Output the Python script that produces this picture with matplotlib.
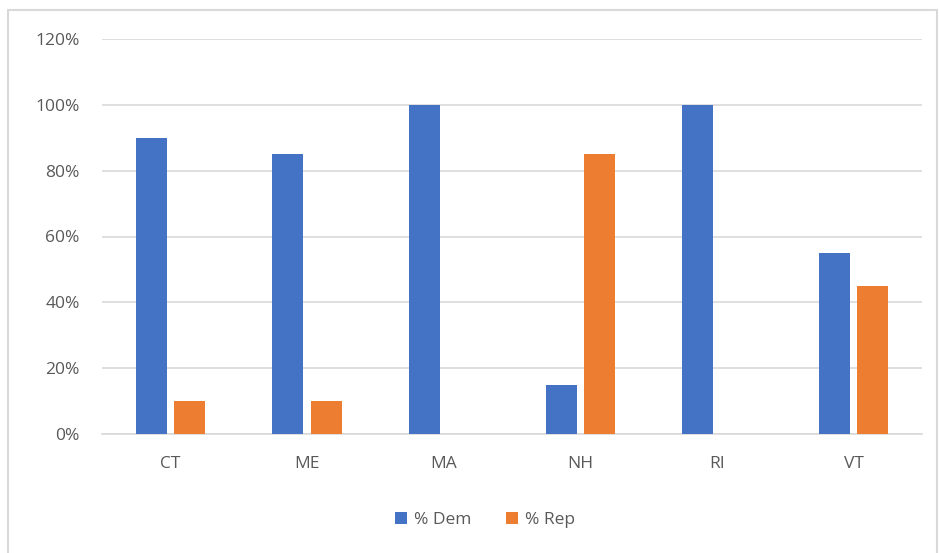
import matplotlib
matplotlib.use("Agg")
import matplotlib.pyplot as plt
import numpy as np
from matplotlib.patches import Rectangle

states = ["CT", "ME", "MA", "NH", "RI", "VT"]
pct_dem = [0.90, 0.85, 1.00, 0.15, 1.00, 0.55]
pct_rep = [0.10, 0.10, 0.00, 0.85, 0.00, 0.45]

plt.rcParams["font.family"] = ["Open Sans", "DejaVu Sans"]
txt = "#595959"

fig = plt.figure(figsize=(9.39, 5.53), dpi=100)
ax = fig.add_axes([102 / 939, 1 - 434 / 553, 820 / 939, 395 / 553])

x = np.arange(len(states))
w = 0.227
off = w / 2 + 0.026
ax.bar(x - off, pct_dem, w, color="#4472C4", label="% Dem", zorder=3)
ax.bar(x + off, pct_rep, w, color="#ED7D31", label="% Rep", zorder=3)

ax.set_xlim(-0.5, len(states) - 0.5)
ax.set_ylim(0, 1.2)
ax.set_yticks(np.arange(0, 1.21, 0.2))
ax.set_yticklabels([f"{int(round(v * 100))}%" for v in np.arange(0, 1.21, 0.2)])
ax.set_xticks(x)
ax.set_xticklabels(states)
ax.grid(axis="y", color="#D9D9D9", lw=1.2, zorder=0)
for s in ["top", "right", "left"]:
    ax.spines[s].set_visible(False)
ax.spines["bottom"].set_color("#D9D9D9")
ax.spines["bottom"].set_linewidth(1.2)
ax.tick_params(axis="both", length=0, colors=txt, labelsize=12.5)
ax.tick_params(axis="y", pad=16)
ax.tick_params(axis="x", pad=16)

fig.legend(loc="center", bbox_to_anchor=(485 / 939, 1 - 520 / 553), ncol=2,
           frameon=False, fontsize=12.5, labelcolor=txt, handlelength=0.7,
           handleheight=0.7, handletextpad=0.4, columnspacing=2.0)

fig.patches.append(Rectangle((8 / 939, -0.01), 929 / 939, 1 - 10 / 553 + 0.01,
                             transform=fig.transFigure, fill=False,
                             edgecolor="#D9D9D9", lw=1.5))

plt.savefig("out.png", dpi=100)
